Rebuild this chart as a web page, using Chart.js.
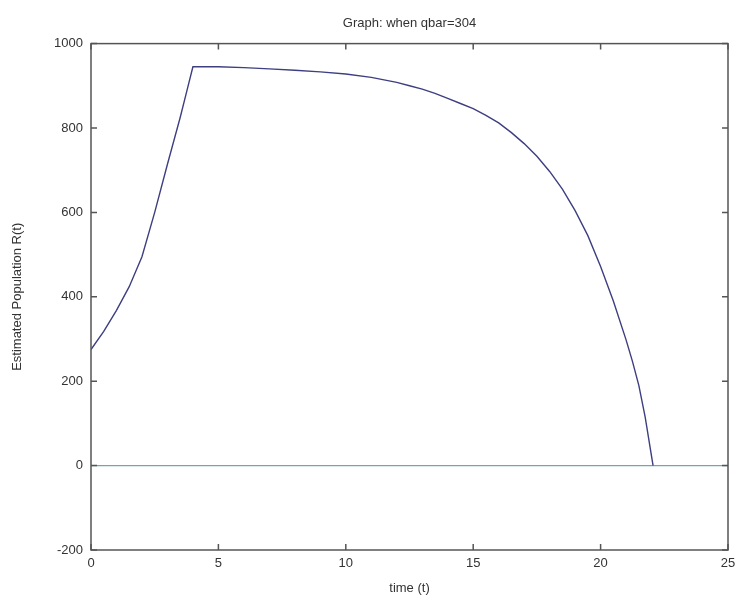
<!DOCTYPE html>
<html>
<head>
<meta charset="utf-8">
<script src="https://cdn.jsdelivr.net/npm/chart.js@4"></script>
<style>
  body { margin: 0; background: #fff; }
</style>
</head>
<body>
<canvas id="chart" width="738" height="600"></canvas>
<script>
// values
const timeValues = [0, 0.5, 1, 1.5, 2, 2.5, 3, 3.5, 3.75, 4, 5, 6, 7, 8, 9, 10, 11, 12, 12.5, 13, 13.5, 14, 14.5, 15, 15.5, 16, 16.5, 17, 17.5, 18, 18.5, 19, 19.5, 20, 20.5, 21, 21.25, 21.5, 21.75, 22, 22.06];
const populationValues = [275, 318, 368, 424, 495, 600, 714, 825, 885, 945, 945, 943, 940, 937, 933, 928, 920, 908, 900, 892, 882, 870, 858, 846, 830, 812, 789, 763, 733, 697, 655, 604, 545, 472, 390, 298, 247, 190, 115, 22, 0];
const zeroLineX = [0, 25];
const zeroLineY = [0, 0];
const xTicks = [0, 5, 10, 15, 20, 25];
const yTicks = [-200, 0, 200, 400, 600, 800, 1000];

const fontFamily = "'Liberation Sans', Arial, sans-serif";
const axisColor = "#555";

const boxPlugin = {
  id: "boxPlugin",
  afterDraw(chart) {
    const ctx = chart.ctx;
    const a = chart.chartArea;
    const xs = chart.scales.x;
    const ys = chart.scales.y;
    ctx.save();
    ctx.strokeStyle = axisColor;
    ctx.lineWidth = 1.5;
    ctx.strokeRect(a.left, a.top, a.right - a.left, a.bottom - a.top);
    ctx.beginPath();
    xTicks.forEach(function (v) {
      const px = xs.getPixelForValue(v);
      ctx.moveTo(px, a.bottom);
      ctx.lineTo(px, a.bottom - 6);
      ctx.moveTo(px, a.top);
      ctx.lineTo(px, a.top + 6);
    });
    yTicks.forEach(function (v) {
      const py = ys.getPixelForValue(v);
      ctx.moveTo(a.left, py);
      ctx.lineTo(a.left + 6, py);
      ctx.moveTo(a.right, py);
      ctx.lineTo(a.right - 6, py);
    });
    ctx.stroke();
    ctx.restore();
  },
};

const ctx = document.querySelector("#chart").getContext("2d");

new Chart(ctx, {
  type: "line",
  data: {
    datasets: [
      {
        label: "R(t)",
        data: timeValues.map(function (t, i) { return { x: t, y: populationValues[i] }; }),
        borderColor: "#3d3f80",
        borderWidth: 1.4,
        pointRadius: 0,
        tension: 0,
        fill: false,
      },
      {
        label: "zero",
        data: zeroLineX.map(function (t, i) { return { x: t, y: zeroLineY[i] }; }),
        borderColor: "#6fa8ac",
        borderWidth: 1.2,
        pointRadius: 0,
        fill: false,
      },
    ],
  },
  options: {
    responsive: false,
    animation: false,
    layout: {
      padding: { left: 4, right: 10, top: 0, bottom: 4 },
    },
    plugins: {
      legend: { display: false },
      tooltip: { enabled: false },
      title: {
        display: true,
        text: "Graph: when qbar=304",
        fullSize: false,
        color: "#333",
        font: { family: fontFamily, size: 13, weight: "normal" },
        padding: { top: 16, bottom: 12 },
      },
    },
    scales: {
      x: {
        type: "linear",
        min: 0,
        max: 25,
        afterFit: function (scale) {
          scale.height = 46;
          scale.paddingLeft = 0;
          scale.paddingRight = 0;
        },
        afterBuildTicks: function (scale) {
          scale.ticks = xTicks.map(function (v) { return { value: v }; });
        },
        grid: { drawOnChartArea: false, drawTicks: false },
        border: { display: false },
        ticks: {
          color: "#333",
          padding: 6,
          maxRotation: 0,
          font: { family: fontFamily, size: 13 },
          callback: function (v) { return String(v); },
        },
        title: {
          display: true,
          text: "time (t)",
          color: "#333",
          font: { family: fontFamily, size: 13 },
          padding: { top: 0, bottom: 0 },
        },
      },
      y: {
        min: -200,
        max: 1000,
        afterFit: function (scale) { scale.width = 87; },
        afterBuildTicks: function (scale) {
          scale.ticks = yTicks.map(function (v) { return { value: v }; });
        },
        grid: { drawOnChartArea: false, drawTicks: false },
        border: { display: false },
        ticks: {
          color: "#333",
          padding: 8,
          font: { family: fontFamily, size: 13 },
          callback: function (v) { return String(v); },
        },
        title: {
          display: true,
          text: "Estimated Population R(t)",
          color: "#333",
          font: { family: fontFamily, size: 13 },
          padding: { top: 6, bottom: 0 },
        },
      },
    },
  },
  plugins: [boxPlugin],
});
</script>
</body>
</html>
